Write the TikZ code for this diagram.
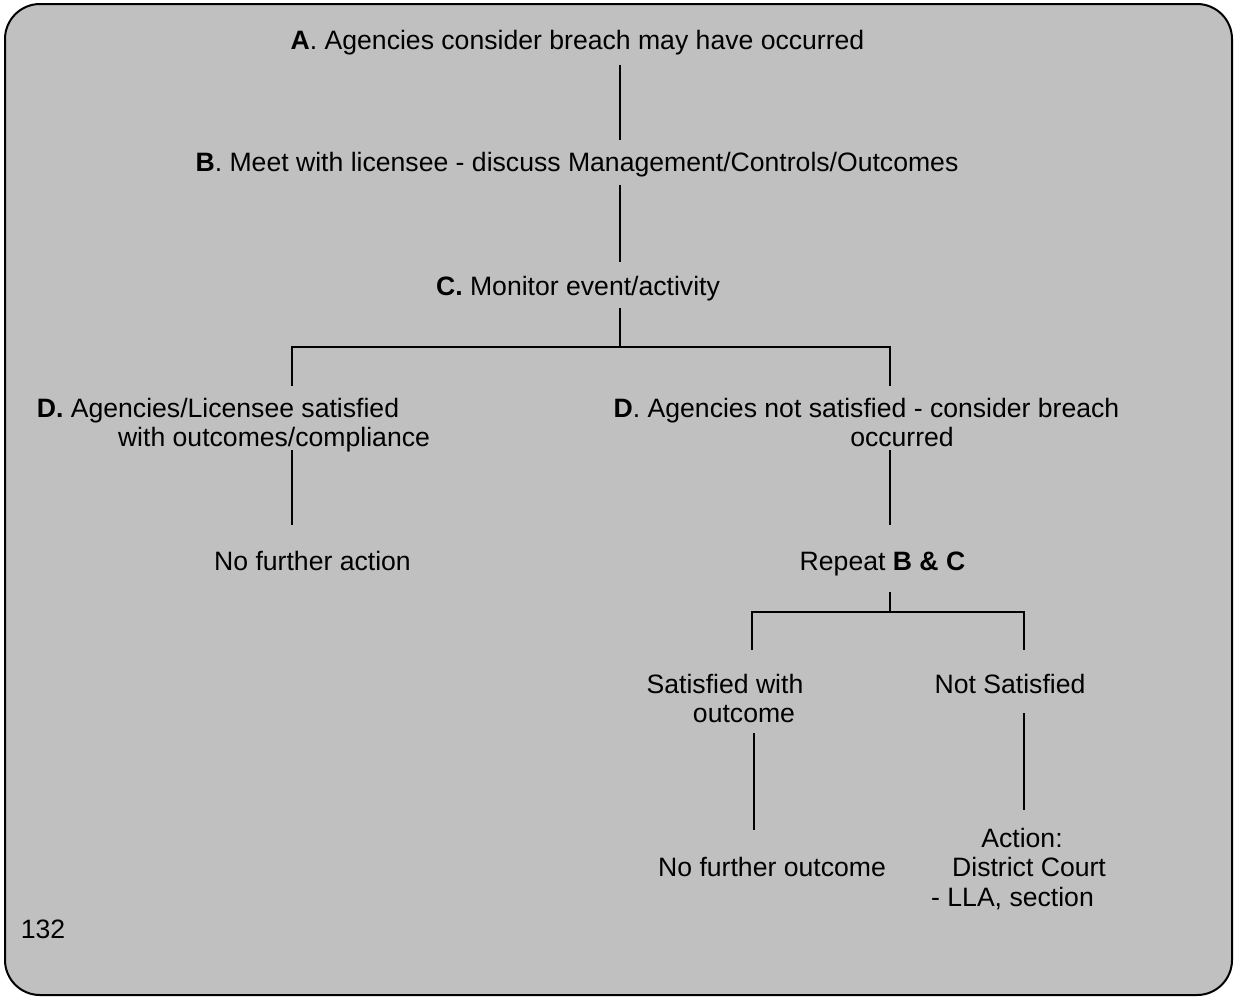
\documentclass[tikz,border=0pt]{standalone}
\usepackage{fontspec}
\setmainfont{Liberation Sans}
\definecolor{panel}{RGB}{192,192,192}
\begin{document}
\begin{tikzpicture}[x=1pt,y=-1pt,
  txt/.style={anchor=base, inner sep=0pt, font=\fontsize{26.6}{31}\selectfont},
  conn/.style={line width=1.5pt, draw=black}]
\useasboundingbox (0,0) rectangle (1238,999);
\fill[white] (0,0) rectangle (1238,999);
\draw[fill=panel, line width=2pt, rounded corners=35pt] (5,4) rectangle (1232,995);

% texts
\node[txt] (A) at (577.5,49) {\textbf{A}. Agencies consider breach may have occurred};
\node[txt] (B) at (577,171) {\textbf{B}. Meet with licensee - discuss Management/Controls/Outcomes};
\node[txt] (C) at (578,295) {\textbf{C.} Monitor event/activity};
\node[txt] (DL1) at (218,417) {\textbf{D.} Agencies/Licensee satisfied};
\node[txt] (DL2) at (274,446) {with outcomes/compliance};
\node[txt] (NFA) at (312.5,570) {No further action};
\node[txt] (DR1) at (866.5,417) {\textbf{D}. Agencies not satisfied - consider breach};
\node[txt] (DR2) at (902,446) {occurred};
\node[txt] (R) at (882.5,570) {Repeat \textbf{B \& C}};
\node[txt] (S1) at (725,693) {Satisfied with};
\node[txt] (S2) at (744,722) {outcome};
\node[txt] (NS) at (1010,693) {Not Satisfied};
\node[txt] (NFO) at (772,876) {No further outcome};
\node[txt] (AC1) at (1022,847) {Action:};
\node[txt] (AC2) at (1029,876) {District Court};
\node[txt] (AC3) at (1012.5,906) {- LLA, section};
\node[txt] (P) at (43,938) {132};

% connector end points
\coordinate (a1) at (620,65);   \coordinate (b0) at (620,140);
\coordinate (b1) at (620,185);  \coordinate (c0) at (620,262);
\coordinate (c1) at (620,308);  \coordinate (cj) at (620,347);
\coordinate (jl) at (292,347);  \coordinate (jr) at (890,347);
\coordinate (dl0) at (292,386); \coordinate (dr0) at (890,386);
\coordinate (dl1) at (292,450); \coordinate (nfa0) at (292,525);
\coordinate (dr1) at (890,450); \coordinate (r0) at (890,525);
\coordinate (r1) at (890,592);  \coordinate (rj) at (890,612);
\coordinate (kl) at (752,612);  \coordinate (kr) at (1024,612);
\coordinate (s0) at (752,650);  \coordinate (ns0) at (1024,650);
\coordinate (s1) at (754,733);  \coordinate (nfo0) at (754,830);
\coordinate (ns1) at (1024,713);\coordinate (ac0) at (1024,810);

\draw[conn] (a1) -- (b0);
\draw[conn] (b1) -- (c0);
\draw[conn] (c1) -- (cj);
\draw[conn] (dl0) -- (jl) -- (jr) -- (dr0);
\draw[conn] (dl1) -- (nfa0);
\draw[conn] (dr1) -- (r0);
\draw[conn] (r1) -- (rj);
\draw[conn] (s0) -- (kl) -- (kr) -- (ns0);
\draw[conn] (s1) -- (nfo0);
\draw[conn] (ns1) -- (ac0);
\end{tikzpicture}
\end{document}
